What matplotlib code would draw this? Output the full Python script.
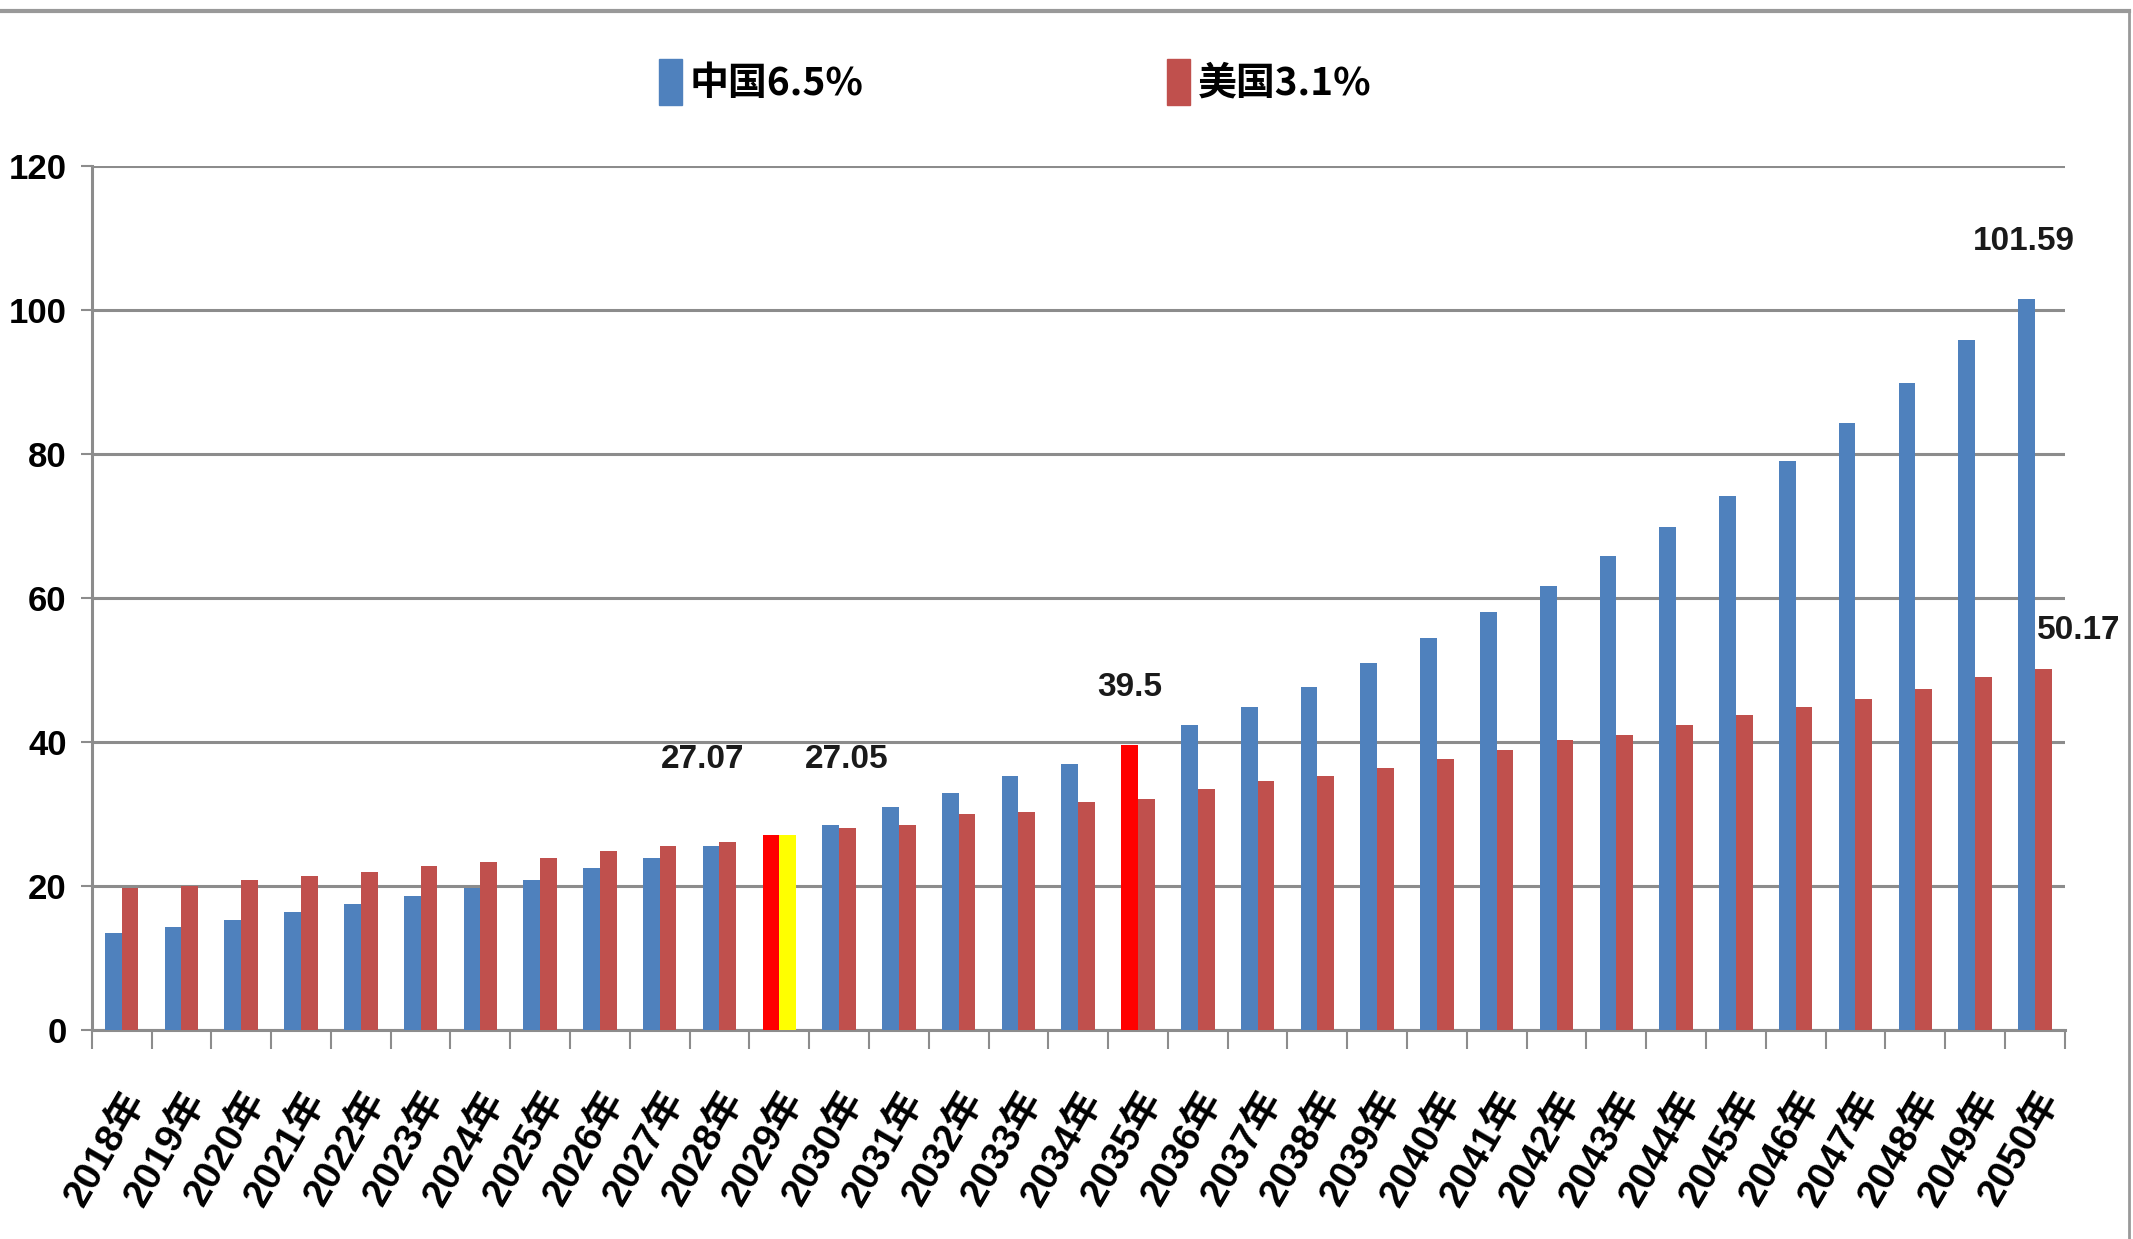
import matplotlib
matplotlib.use("Agg")
import matplotlib.pyplot as plt
from matplotlib.patches import Patch
from matplotlib.lines import Line2D
import numpy as np

# data
years = [str(y) + "年" for y in range(2018, 2051)]
china = [13.4, 14.2, 15.3, 16.4, 17.4, 18.5, 19.7, 20.8, 22.5, 23.8, 25.5,
         27.07, 28.5, 31.0, 32.9, 35.2, 36.9, 39.5, 42.3, 44.8, 47.6, 50.9,
         54.4, 58.0, 61.6, 65.8, 69.9, 74.1, 79.0, 84.3, 89.8, 95.8, 101.59]
usa = [19.7, 20.0, 20.8, 21.4, 21.9, 22.7, 23.3, 23.8, 24.8, 25.5, 26.1,
       27.05, 28.0, 28.5, 29.9, 30.2, 31.6, 32.1, 33.5, 34.6, 35.2, 36.3,
       37.6, 38.9, 40.3, 41.0, 42.3, 43.7, 44.8, 45.9, 47.3, 49.0, 50.17]
legend_labels = ["中国6.5%", "美国3.1%"]
yticks = [0, 20, 40, 60, 80, 100, 120]

# highlighted bars: index -> colour
china_hl = {11: "#FF0000", 17: "#FF0000"}
usa_hl = {11: "#FFFF00"}

# value labels (text, x, y)
notes = [("27.07", 9.72, 37.6), ("27.05", 12.13, 37.6), ("39.5", 16.86, 47.6),
         ("101.59", 31.82, 109.5), ("50.17", 32.73, 55.4)]

BLUE = "#4F81BD"
RED = "#C0504D"
GRID = "#8C8C8C"
num_font = ["Liberation Sans Narrow", "Liberation Sans", "Noto Sans CJK SC"]
cjk_font = ["Noto Sans CJK SC", "DejaVu Sans"]

fig = plt.figure(figsize=(21.33, 12.39), dpi=100)
ax = fig.add_axes([0.043, 0.169, 0.925, 0.697])

x = np.arange(len(years))
w = 0.28
c_cols = [china_hl.get(i, BLUE) for i in range(len(x))]
u_cols = [usa_hl.get(i, RED) for i in range(len(x))]
ax.bar(x - w / 2, china, w, color=c_cols, zorder=3)
ax.bar(x + w / 2, usa, w, color=u_cols, zorder=3)

ax.set_xlim(-0.5, len(x) - 0.5)
ax.set_ylim(0, 120)
ax.set_yticks(yticks)
ax.yaxis.grid(True, color=GRID, linewidth=2.2, zorder=0)
ax.set_axisbelow(True)

for s in ["top", "right"]:
    ax.spines[s].set_visible(False)
for s in ["left", "bottom"]:
    ax.spines[s].set_color(GRID)
    ax.spines[s].set_linewidth(2.2)

ax.tick_params(axis="y", length=8, width=1.5, color=GRID, pad=10)
for lab in ax.get_yticklabels():
    lab.set_fontfamily(num_font)
    lab.set_fontweight("bold")
    lab.set_fontsize(25)

# labels at category centres, tick marks at boundaries
ax.set_xticks(x)
ax.set_xticklabels(years, rotation=60, ha="right", rotation_mode="anchor",
                   fontsize=28, fontweight="bold", family=num_font)
ax.tick_params(axis="x", length=0, pad=40)
ax.set_xticks(np.arange(-0.5, len(x)), minor=True)
ax.tick_params(axis="x", which="minor", length=14, width=1.5, color=GRID)

for txt, tx, ty in notes:
    ax.text(tx, ty, txt, ha="center", va="center", fontsize=24,
            fontweight="bold", family=num_font, color="#1a1a1a")

handles = [Patch(color=BLUE), Patch(color=RED)]
fig.legend(handles, legend_labels, loc="center", bbox_to_anchor=(0.476, 0.934),
           ncol=2, frameon=False, handlelength=0.6, handleheight=1.45,
           handletextpad=0.2, columnspacing=7.8,
           prop={"family": cjk_font, "weight": "bold", "size": 28})

# outer frame remnants
fig.add_artist(Line2D([0, 0.998], [0.991, 0.991], color="#999999", lw=3,
                      transform=fig.transFigure))
fig.add_artist(Line2D([0.998, 0.998], [0.0, 0.991], color="#999999", lw=2,
                      transform=fig.transFigure))

fig.savefig("out.png", dpi=100)
